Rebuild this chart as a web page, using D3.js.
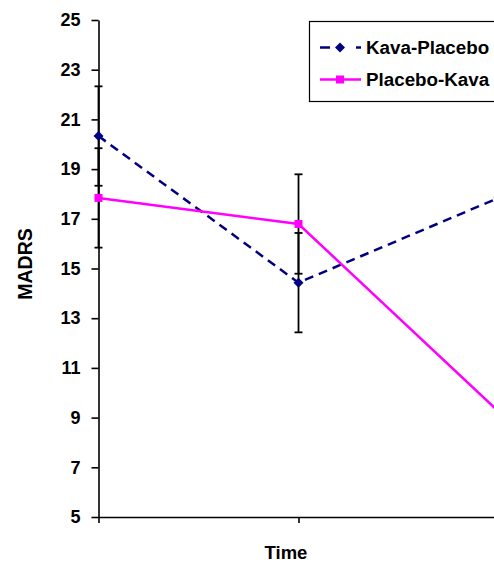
<!DOCTYPE html>
<html>
<head>
<meta charset="utf-8">
<title>MADRS over time</title>
<script src="https://d3js.org/d3.v7.min.js"></script>
<style>
  body { margin: 0; background: #fff; }
  text { font-family: "Liberation Sans", Arial, sans-serif; font-weight: bold; }
</style>
</head>
<body>
<div id="container"></div>
<script>
// data
var timePoints = [0, 1, 2];
var kavaPlacebo = [20.33, 14.43, 17.84];
var kavaPlaceboErr = [2.0, 2.0, 2.0];
var placeboKava = [17.84, 16.79, 9.25];
var placeboKavaErr = [2.0, 2.0, 2.0];
var yTicks = [5, 7, 9, 11, 13, 15, 17, 19, 21, 23, 25];

var width = 494, height = 563;

var svg = d3.select("#container").append("svg")
    .attr("width", width).attr("height", height);

var x = d3.scaleLinear().domain([0, 2]).range([98.5, 498.5]);
var y = d3.scaleLinear().domain([5, 25]).range([517, 20]);

// axes
var yAxis = svg.append("g")
    .attr("transform", "translate(98.5,0)")
    .call(d3.axisLeft(y).tickValues(yTicks).tickSize(7).tickSizeOuter(0).tickPadding(11));
yAxis.select(".domain").attr("stroke", "#000").attr("stroke-width", 1.6);
yAxis.selectAll(".tick line").attr("stroke", "#000").attr("stroke-width", 1.6);
yAxis.selectAll(".tick text").attr("font-size", 18).attr("fill", "#000")
    .style("font-family", "'Liberation Sans', Arial, sans-serif").style("font-weight", "bold");

var xAxis = svg.append("g")
    .attr("transform", "translate(0,517)")
    .call(d3.axisBottom(x).tickValues(timePoints).tickSize(6).tickSizeOuter(0).tickFormat(""));
xAxis.select(".domain").attr("stroke", "#000").attr("stroke-width", 1.6);
xAxis.selectAll(".tick line").attr("stroke", "#000").attr("stroke-width", 1.6);

// axis titles
svg.append("text")
    .attr("x", 286).attr("y", 559)
    .attr("text-anchor", "middle")
    .attr("font-size", 18.5)
    .text("Time");

svg.append("text")
    .attr("transform", "translate(32,264) rotate(-90)")
    .attr("text-anchor", "middle")
    .attr("font-size", 19.5)
    .text("MADRS");

// error bars
function errorBars(values, errs) {
  var g = svg.append("g").attr("stroke", "#000").attr("stroke-width", 1.8);
  values.forEach(function(v, i) {
    var cx = x(timePoints[i]);
    g.append("line").attr("x1", cx).attr("x2", cx).attr("y1", y(v - errs[i])).attr("y2", y(v + errs[i]));
    [v - errs[i], v + errs[i]].forEach(function(e) {
      g.append("line").attr("x1", cx - 4).attr("x2", cx + 4).attr("y1", y(e)).attr("y2", y(e));
    });
  });
}
errorBars(kavaPlacebo, kavaPlaceboErr);
errorBars(placeboKava, placeboKavaErr);

var line = d3.line()
    .x(function(d, i) { return x(timePoints[i]); })
    .y(function(d) { return y(d); });

// Kava-Placebo series
svg.append("path")
    .datum(kavaPlacebo)
    .attr("d", line)
    .attr("fill", "none")
    .attr("stroke", "#000080")
    .attr("stroke-width", 2.5)
    .attr("stroke-dasharray", "9,6");

// diamond = square turned 45 degrees
var diamond = d3.symbol().type(d3.symbolSquare).size(50);
var square = d3.symbol().type(d3.symbolSquare).size(64);

svg.selectAll(".kp")
    .data(kavaPlacebo)
    .enter().append("path")
    .attr("class", "kp")
    .attr("d", diamond)
    .attr("transform", function(d, i) { return "translate(" + x(timePoints[i]) + "," + y(d) + ") rotate(45)"; })
    .attr("fill", "#000080");

// Placebo-Kava series
svg.append("path")
    .datum(placeboKava)
    .attr("d", line)
    .attr("fill", "none")
    .attr("stroke", "#ff00ff")
    .attr("stroke-width", 2.5);

svg.selectAll(".pk")
    .data(placeboKava)
    .enter().append("path")
    .attr("class", "pk")
    .attr("d", square)
    .attr("transform", function(d, i) { return "translate(" + x(timePoints[i]) + "," + y(d) + ")"; })
    .attr("fill", "#ff00ff");

// legend
var legend = svg.append("g");
legend.append("rect")
    .attr("x", 309.5).attr("y", 21.5)
    .attr("width", 220).attr("height", 80)
    .attr("fill", "#fff").attr("stroke", "#000").attr("stroke-width", 1.2);

var items = [
  {name: "Kava-Placebo", color: "#000080", dash: true, sym: diamond, rot: 45},
  {name: "Placebo-Kava", color: "#ff00ff", dash: false, sym: square, rot: 0}
];
items.forEach(function(it, i) {
  var ly = 47.5 + i * 32;
  legend.append("line")
      .attr("x1", 320).attr("x2", 361).attr("y1", ly).attr("y2", ly)
      .attr("stroke", it.color).attr("stroke-width", 2.5)
      .attr("stroke-dasharray", it.dash ? "10,26,5" : null);
  legend.append("path")
      .attr("d", it.sym)
      .attr("transform", "translate(340," + ly + ") rotate(" + it.rot + ")")
      .attr("fill", it.color);
  legend.append("text")
      .attr("x", 366).attr("y", ly + 6.5)
      .attr("font-size", 18.8)
      .text(it.name);
});
</script>
</body>
</html>
